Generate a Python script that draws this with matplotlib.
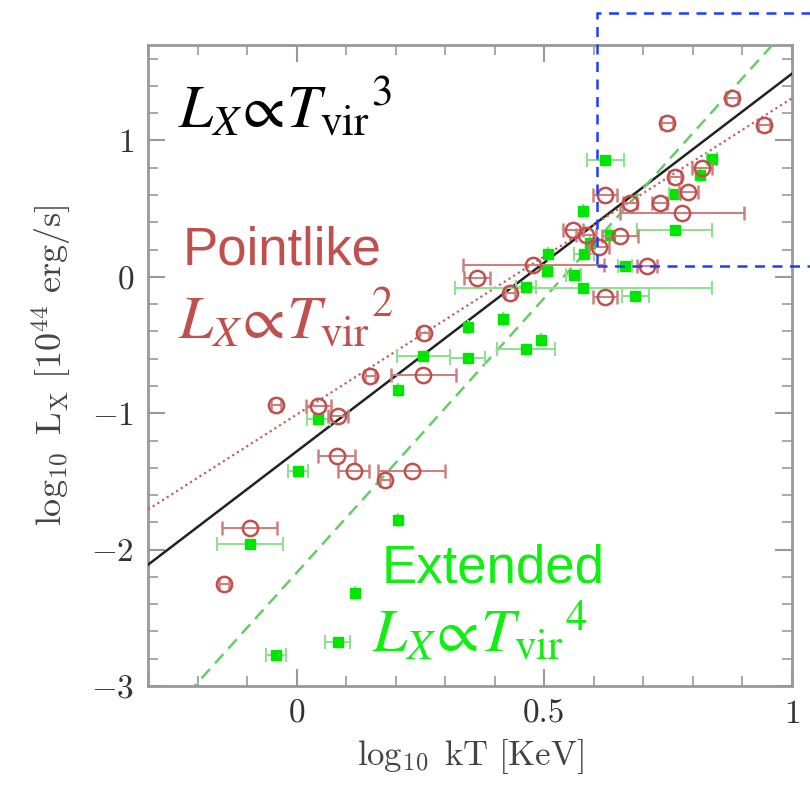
import matplotlib
matplotlib.use("Agg")
import matplotlib.pyplot as plt
import numpy as np
from matplotlib.patches import Rectangle
from matplotlib.ticker import MultipleLocator

plt.rcParams["mathtext.fontset"] = "cm"
plt.rcParams["font.family"] = ["serif"]
plt.rcParams["font.serif"] = ["cmr10", "DejaVu Serif"]
plt.rcParams["axes.formatter.use_mathtext"] = True

# Pointlike sources (red open circles): log10 kT, log10 Lx, x error
point_x = [-0.147, -0.095, -0.042, 0.044, 0.083, 0.081, 0.115, 0.178, 0.232, 0.148,
           0.256, 0.257, 0.364, 0.431, 0.478, 0.558, 0.584, 0.610, 0.653, 0.623,
           0.707, 0.778, 0.733, 0.673, 0.623, 0.791, 0.764, 0.818, 0.879, 0.747, 0.943]
point_y = [-2.25, -1.84, -0.94, -0.95, -1.02, -1.31, -1.42, -1.49, -1.42, -0.73,
           -0.72, -0.41, -0.01, -0.115, 0.09, 0.345, 0.31, 0.22, 0.30, -0.15,
           0.08, 0.47, 0.54, 0.545, 0.60, 0.625, 0.73, 0.80, 1.315, 1.13, 1.11]
point_xerr = [0.01, 0.055, 0.01, 0.026, 0.02, 0.037, 0.032, 0.01, 0.068, 0.01,
              0.066, 0.01, 0.027, 0.01, 0.143, 0.02, 0.02, 0.02, 0.036, 0.024,
              0.02, 0.126, 0.015, 0.015, 0.024, 0.02, 0.012, 0.02, 0.012, 0.012, 0.012]

# Extended sources (green filled squares)
ext_x = [-0.042, 0.083, 0.117, 0.205, -0.094, 0.003, 0.044, 0.205, 0.256, 0.345,
         0.345, 0.417, 0.463, 0.493, 0.463, 0.506, 0.508, 0.559, 0.579, 0.580,
         0.593, 0.633, 0.579, 0.663, 0.684, 0.763, 0.764, 0.815, 0.838, 0.623]
ext_y = [-2.77, -2.68, -2.32, -1.78, -1.96, -1.42, -1.04, -0.83, -0.58, -0.595,
         -0.37, -0.31, -0.53, -0.46, -0.075, 0.04, 0.17, 0.015, -0.08, 0.17,
         0.25, 0.31, 0.48, 0.08, -0.14, 0.34, 0.61, 0.745, 0.867, 0.86]
ext_xerr = [0.02, 0.025, 0.0, 0.0, 0.066, 0.02, 0.024, 0.0, 0.054, 0.036,
            0.0, 0.0, 0.058, 0.0, 0.02, 0.0, 0.0, 0.015, 0.26, 0.02,
            0.0, 0.0, 0.0, 0.015, 0.027, 0.076, 0.012, 0.0, 0.01, 0.037]

# fitted relations: (intercept, slope)
fit_all = (-1.28, 2.77)
fit_point = (-1.01, 2.32)
fit_ext = (-2.17, 4.03)

RED = "#c0504d"
GREEN = "#00e600"

fig = plt.figure(figsize=(8.1, 7.91), dpi=100)
ax = fig.add_axes([148 / 810, 1 - 686 / 791, 644 / 810, 641 / 791])

xx = np.linspace(-0.3, 1.0, 200)
ax.plot(xx, fit_all[0] + fit_all[1] * xx, color="#222222", lw=1.8, zorder=3)
ax.plot(xx, fit_point[0] + fit_point[1] * xx, color="#c06060", lw=1.6, ls=(0, (1, 1.5)), zorder=3)
ax.plot(xx, fit_ext[0] + fit_ext[1] * xx, color="#66cc66", lw=1.8, ls=(0, (5, 3)), zorder=3)

ax.errorbar(ext_x, ext_y, xerr=ext_xerr, fmt="s", ms=7.5, color=GREEN, mec=GREEN,
            ecolor="#90e090", elinewidth=1.5, capsize=5, capthick=1.5, zorder=4)
ax.errorbar(point_x, point_y, xerr=point_xerr, fmt="o", ms=11, mfc="none", mec=RED,
            mew=1.8, ecolor="#cc8080", elinewidth=1.5, capsize=5, capthick=1.5, zorder=5)

ax.set_xlim(-0.3, 1.0)
ax.set_ylim(-3, 1.7)
ax.xaxis.set_major_locator(MultipleLocator(0.5))
ax.xaxis.set_minor_locator(MultipleLocator(0.1))
ax.yaxis.set_major_locator(MultipleLocator(1))
ax.yaxis.set_minor_locator(MultipleLocator(0.2))
ax.tick_params(which="both", direction="in", top=True, right=True, color="#999999",
               labelsize=24, labelcolor="#333333", pad=10)
ax.tick_params(which="major", length=12, width=1.5)
ax.tick_params(which="minor", length=7, width=1.2)
for sp in ax.spines.values():
    sp.set_color("#999999")
    sp.set_linewidth(2)
ax.xaxis.set_major_formatter(plt.FuncFormatter(lambda v, p: f"{v:g}"))

ax.set_xlabel(r"$\log_{10}\ \mathrm{kT}\ [\mathrm{KeV}]$", fontsize=25, color="#444444", labelpad=6)
ax.set_ylabel(r"$\log_{10}\ \mathrm{L_X}\ [10^{44}\ \mathrm{erg/s}]$", fontsize=26, color="#444444", labelpad=12)

ax.text(0.047, 0.872, r"$L_X\!\propto\! {T_{\rm vir}}^{3}$", transform=ax.transAxes,
        fontsize=44, color="black", va="baseline", math_fontfamily="stix")
ax.text(0.053, 0.657, "Pointlike", transform=ax.transAxes, fontsize=38, color=RED,
        va="baseline", family="Liberation Sans")
ax.text(0.047, 0.543, r"$L_X\!\propto\! {T_{\rm vir}}^{2}$", transform=ax.transAxes,
        fontsize=44, color=RED, va="baseline", math_fontfamily="stix")
ax.text(0.363, 0.161, "Extended", transform=ax.transAxes, fontsize=38, color="#11ee11",
        va="baseline", family="Liberation Sans")
ax.text(0.348, 0.053, r"$L_X\!\propto\! {T_{\rm vir}}^{4}$", transform=ax.transAxes,
        fontsize=44, color="#11ee11", va="baseline", math_fontfamily="stix")

# highlight box for the hot end, runs off the figure edge
ax.add_patch(Rectangle((0.606, 0.076), 0.6, 1.855, fill=False, ec="#1f3cff", lw=1.8,
                       ls=(0, (4, 3)), clip_on=False, zorder=6))

fig.savefig("out.png", dpi=100)
